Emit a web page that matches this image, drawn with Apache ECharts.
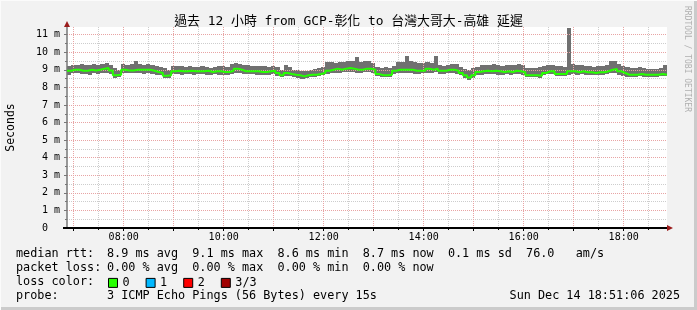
<!DOCTYPE html>
<html><head><meta charset="utf-8">
<script src="https://cdn.jsdelivr.net/npm/echarts@6/dist/echarts.min.js"></script>
<style>html,body{margin:0;padding:0;background:#f2f2f2}#c{width:697px;height:310px}</style>
</head><body><div id="c"></div>
<script>
// time axis in minutes since midnight
const startMin = 412;   // 06:52
const stepMin = 5;
const endMin = 1132;    // 18:52

const median = [
8.95,9.01,9.01,8.95,8.95,9.01,8.97,9.01,9.07,9.10,
8.97,8.69,8.72,9.01,8.97,8.97,9.01,9.01,9.01,9.01,
8.95,8.88,8.82,8.67,8.69,8.92,8.95,8.92,8.92,8.95,
8.92,8.92,8.92,8.95,8.88,8.92,
8.92,8.88,8.88,8.95,9.07,9.01,8.92,8.92,8.92,8.92,
8.88,8.88,8.92,8.95,8.82,8.69,8.82,8.76,8.72,8.69,
8.63,8.69,8.72,8.72,8.76,8.82,8.95,9.01,9.07,9.01,
9.07,9.10,9.07,9.01,9.01,9.07,
9.07,9.01,8.76,8.69,8.69,8.72,8.95,9.01,9.01,9.01,
9.01,8.95,8.95,8.95,9.07,9.01,9.07,8.95,8.95,9.01,
9.01,8.95,8.82,8.69,8.57,8.69,8.88,8.92,8.95,8.92,
8.95,8.92,8.88,8.92,8.88,8.95,
8.92,8.87,8.69,8.69,8.69,8.67,8.82,8.92,8.92,8.76,
8.76,8.76,8.92,8.92,8.87,8.92,8.87,8.87,8.82,8.87,
8.87,8.92,9.01,9.05,8.92,8.82,8.72,8.72,8.72,8.76,
8.72,8.72,8.72,8.72,8.76,8.72
];
const high = [
9.20,9.29,9.26,9.33,9.29,9.29,9.33,9.26,9.33,9.39,
9.29,9.10,9.01,9.33,9.29,9.33,9.48,9.33,9.29,9.33,
9.29,9.20,9.15,9.10,9.01,9.20,9.20,9.20,9.15,9.20,
9.15,9.15,9.20,9.15,9.10,9.15,
9.20,9.20,9.15,9.33,9.39,9.33,9.29,9.26,9.20,9.20,
9.20,9.20,9.15,9.20,9.15,9.01,9.29,9.15,9.01,9.01,
8.95,8.95,9.01,9.07,9.10,9.15,9.44,9.44,9.39,9.44,
9.44,9.48,9.52,9.71,9.44,9.48,
9.48,9.39,9.15,9.10,9.15,9.10,9.20,9.44,9.44,9.81,
9.48,9.44,9.39,9.39,9.44,9.39,9.77,9.29,9.20,9.29,
9.33,9.33,9.15,9.07,9.01,9.10,9.15,9.26,9.29,9.29,
9.33,9.29,9.20,9.26,9.26,9.29,
9.33,9.29,9.10,9.10,9.10,9.15,9.20,9.29,9.26,9.20,
9.20,9.15,11.40,9.33,9.29,9.26,9.20,9.20,9.15,9.20,
9.20,9.26,9.48,9.48,9.33,9.20,9.15,9.10,9.10,9.15,
9.10,9.07,9.07,9.07,9.10,9.29
];
const low = [
8.72,8.82,8.82,8.76,8.76,8.72,8.82,8.76,8.82,8.82,
8.76,8.53,8.57,8.82,8.82,8.82,8.82,8.82,8.76,8.82,
8.76,8.72,8.69,8.53,8.53,8.76,8.76,8.72,8.76,8.76,
8.72,8.76,8.76,8.72,8.72,8.76,
8.72,8.72,8.69,8.76,8.82,8.82,8.76,8.76,8.76,8.72,
8.72,8.72,8.72,8.76,8.63,8.57,8.63,8.63,8.57,8.53,
8.50,8.53,8.57,8.57,8.63,8.69,8.76,8.82,8.82,8.82,
8.88,8.88,8.88,8.82,8.82,8.88,
8.88,8.82,8.63,8.57,8.57,8.57,8.76,8.82,8.82,8.82,
8.82,8.76,8.76,8.82,8.82,8.82,8.88,8.76,8.76,8.82,
8.82,8.76,8.69,8.53,8.44,8.53,8.72,8.72,8.76,8.76,
8.76,8.72,8.72,8.76,8.72,8.76,
8.76,8.72,8.58,8.58,8.58,8.53,8.69,8.76,8.76,8.63,
8.63,8.63,8.72,8.76,8.72,8.76,8.72,8.72,8.69,8.72,
8.72,8.76,8.82,8.82,8.72,8.63,8.58,8.58,8.58,8.63,
8.58,8.58,8.58,8.58,8.63,8.63
];

const lossNames = ['0','1','2','3/3'];
const lossColors = ['#26ff00','#00b8ff','#ff0000','#a00000'];

const xMajorTicks = [420,480,540,600,660,720,780,840,900,960,1020,1080];
const xMinorTicks = [450,510,570,630,690,750,810,870,930,990,1050,1110];
const xLabelTicks = [480,600,720,840,960,1080];
const yMajorTicks = [0,1,2,3,4,5,6,7,8,9,10,11];
const yMinorTicks = [0.5,1.5,2.5,3.5,4.5,5.5,6.5,7.5,8.5,9.5,10.5];
const yMax = 11.44;

const mono = '"DejaVu Sans Mono", "Noto Sans CJK TC", monospace';
const times = median.map((_, i) => startMin + i * stepMin);
function pairs(arr) {
  const d = arr.map((v, i) => [times[i], v]);
  d.push([endMin, arr[arr.length - 1]]);
  return d;
}
const smokeData = times.map((t, i) => [t, low[i], high[i]]);
const pad = n => (n < 10 ? '0' : '') + n;

const G = {left: 67, top: 27, width: 600, height: 201};
const redGrid = {color: '#e8a4a4', width: 1, type: [1, 1]};
const grayGrid = {color: '#cdcdcd', width: 1, type: [1, 1]};

const chart = echarts.init(document.getElementById('c'), null, {renderer: 'canvas'});
const series = [
  {name: 'smoke', type: 'custom', data: smokeData, encode: {x: 0, y: [1, 2]}, silent: true, z: 2,
   renderItem: function (params, api) {
     const t = api.value(0);
     const a = api.coord([t, api.value(2)]);
     const b = api.coord([t + stepMin, api.value(1)]);
     const x0 = Math.round(a[0]), x1 = Math.round(b[0]);
     const y0 = Math.round(a[1]), y1 = Math.round(b[1]);
     return {type: 'rect', shape: {x: x0, y: y0, width: x1 - x0, height: y1 - y0},
             style: {fill: '#707070'}};
   }},
  {name: lossNames[0], type: 'line', data: pairs(median), step: 'end', symbol: 'none',
   itemStyle: {color: lossColors[0]}, lineStyle: {color: lossColors[0], width: 2}, z: 5}
];
for (let k = 1; k < lossNames.length; k++) {
  series.push({name: lossNames[k], type: 'line', data: [], symbol: 'none',
    itemStyle: {color: lossColors[k]}, lineStyle: {color: lossColors[k]}});
}

chart.setOption({
  animation: false,
  backgroundColor: '#f2f2f2',
  grid: Object.assign({show: true, backgroundColor: '#ffffff', borderWidth: 0,
    containLabel: false, outerBoundsMode: 'none'}, G),
  xAxis: [
    {type: 'value', min: startMin, max: endMin, position: 'bottom',
     axisLine: {show: true, lineStyle: {color: '#000', width: 2}},
     axisTick: {show: true, customValues: xMajorTicks, length: 3, lineStyle: {color: '#000'}},
     axisLabel: {customValues: xLabelTicks, formatter: v => pad(Math.floor(v / 60)) + ':' + pad(v % 60),
       fontFamily: mono, fontSize: 10, color: '#000', margin: 4},
     splitLine: {show: true, lineStyle: redGrid}, z: 3},
    {type: 'value', min: startMin, max: endMin, position: 'bottom',
     axisLine: {show: false},
     axisTick: {show: true, customValues: xMinorTicks, length: 2, lineStyle: {color: '#000'}},
     axisLabel: {show: false},
     splitLine: {show: true, lineStyle: grayGrid}}
  ],
  yAxis: [
    {type: 'value', min: 0, max: yMax, position: 'left',
     name: 'Seconds', nameLocation: 'middle', nameGap: 50,
     nameTextStyle: {fontFamily: mono, fontSize: 11.5, color: '#000'},
     axisLine: {show: true, lineStyle: {color: '#777', width: 1.5}},
     axisTick: {show: true, customValues: yMajorTicks, length: 3, lineStyle: {color: '#777'}},
     axisLabel: {customValues: yMajorTicks, formatter: v => v === 0 ? '0  ' : v + ' m',
       fontFamily: mono, fontSize: 10, color: '#000', margin: 7},
     splitLine: {show: true, lineStyle: redGrid}, z: 3},
    {type: 'value', min: 0, max: yMax, position: 'left',
     axisLine: {show: false},
     axisTick: {show: true, customValues: yMinorTicks, length: 2, lineStyle: {color: '#777'}},
     axisLabel: {show: false},
     splitLine: {show: true, lineStyle: grayGrid}}
  ],
  legend: {
    data: lossNames, left: 108, top: 277, padding: 0, icon: 'rect',
    itemWidth: 9, itemHeight: 9, itemGap: 16, selectedMode: false,
    itemStyle: {borderColor: '#000', borderWidth: 1},
    textStyle: {fontFamily: mono, fontSize: 11.8, color: '#000', padding: [0, 0, 0, 0]}
  },
  series: series
});

const bodyFont = '11.8px ' + mono;
function txt(x, y, s, opt) {
  return Object.assign({type: 'text', x: x, y: y, silent: true, z: 100,
    style: Object.assign({text: s, font: bodyFont, fill: '#000', align: 'left', verticalAlign: 'middle'}, opt || {})});
}
const right = G.left + G.width, bottom = G.top + G.height;
chart.setOption({
  graphic: [
    {type: 'rect', shape: {x: 0, y: 307, width: 697, height: 3}, style: {fill: '#cbcbcb'}, silent: true},
    {type: 'rect', shape: {x: 694, y: 0, width: 3, height: 310}, style: {fill: '#cbcbcb'}, silent: true},
    {type: 'rect', shape: {x: 0, y: 0, width: 697, height: 1}, style: {fill: '#fbfbfb'}, silent: true},
    {type: 'rect', shape: {x: 0, y: 0, width: 1, height: 310}, style: {fill: '#fbfbfb'}, silent: true},
    txt(348.5, 21.5, '過去 12 小時 from GCP-彰化 to 台灣大哥大-高雄 延遲', {font: '12.9px ' + mono, align: 'center'}),
    Object.assign(txt(687, 59, 'RRDTOOL / TOBI OETIKER', {font: '8px ' + mono, fill: '#b0b0b0', align: 'center'}), {rotation: -Math.PI / 2}),
    {type: 'line', shape: {x1: G.left - 4, y1: bottom, x2: G.left, y2: bottom}, style: {stroke: '#000', lineWidth: 2}, silent: true, z: 100},
    {type: 'polygon', shape: {points: [[G.left - 3, G.top], [G.left + 3, G.top], [G.left, G.top - 6]]}, style: {fill: '#9b1c1c'}, silent: true, z: 100},
    {type: 'polygon', shape: {points: [[right, bottom - 3], [right, bottom + 3], [right + 6, bottom]]}, style: {fill: '#9b1c1c'}, silent: true, z: 100},
    txt(16, 254, 'median rtt:'),
    txt(107, 254, '8.9 ms avg  9.1 ms max  8.6 ms min  8.7 ms now  0.1 ms sd  76.0   am/s'),
    txt(16, 268, 'packet loss:'),
    txt(107, 268, '0.00 % avg  0.00 % max  0.00 % min  0.00 % now'),
    txt(16, 282, 'loss color:'),
    txt(16, 296, 'probe:'),
    txt(107, 296, '3 ICMP Echo Pings (56 Bytes) every 15s'),
    txt(680, 296, 'Sun Dec 14 18:51:06 2025', {align: 'right'})
  ]
});
</script>
</body></html>
